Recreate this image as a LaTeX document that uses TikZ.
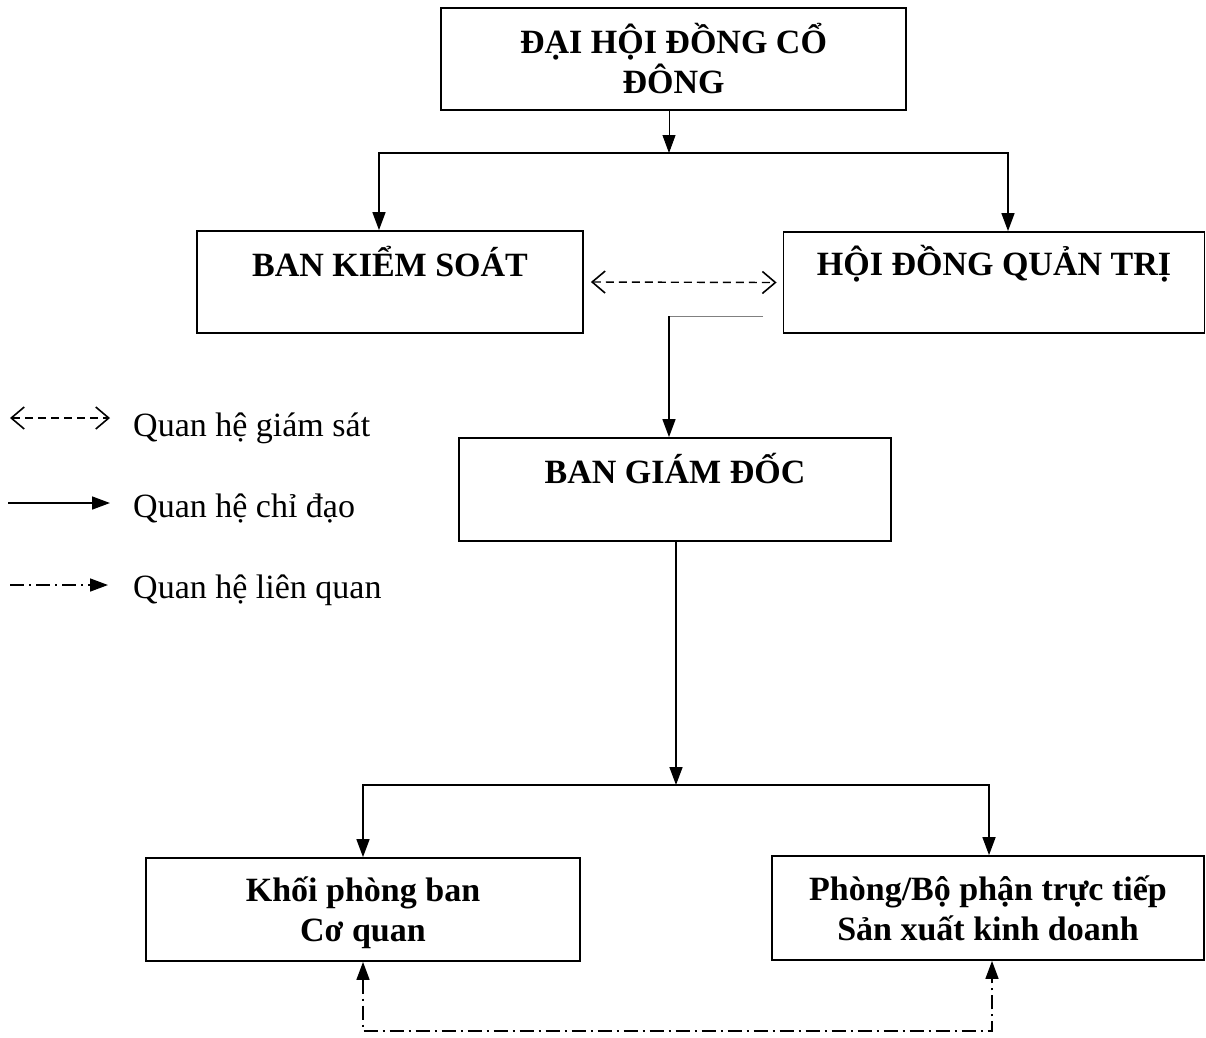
\documentclass[tikz,border=0pt]{standalone}
\usepackage{fontspec}
\setmainfont{Liberation Serif}
\usetikzlibrary{arrows.meta}
\tikzset{
	box/.style={draw,line width=1.8pt,inner sep=0pt,align=center,font=\fontsize{34}{40}\selectfont\bfseries},
	lgd/.style={inner sep=0pt,font=\fontsize{34}{40}\selectfont},
	arr/.style={line width=1.6pt,-{Triangle[width=13pt,length=18pt]}},
	sup/.style={line width=1.4pt,dash pattern=on 8pt off 5pt,{Straight Barb[length=13pt,width=22pt,line width=1.6pt]}-{Straight Barb[length=13pt,width=22pt,line width=1.6pt]}},
	rel/.style={line width=1.6pt,dash pattern=on 14pt off 5pt on 2pt off 5pt,{Triangle[width=13pt,length=18pt]}-{Triangle[width=13pt,length=18pt]}}
}
\begin{document}
\begin{tikzpicture}[x=1pt,y=-1pt]
	\useasboundingbox (0,0) rectangle (1206,1037);

	\node [box,minimum width=465pt,minimum height=102pt] (dh) at (673.5,59) {ĐẠI HỘI ĐỒNG CỔ\\ĐÔNG};
	\node [box,minimum width=386pt,text height=45pt,text depth=57pt,anchor=base] (bks) at (390,276) {BAN KIỂM SOÁT};
	\node [box,minimum width=421pt,text height=43pt,text depth=58pt,anchor=base] (hd) at (994,275) {HỘI ĐỒNG QUẢN TRỊ};
	\node [box,minimum width=432pt,text height=45pt,text depth=58pt,anchor=base] (bgd) at (675,483) {BAN GIÁM ĐỐC};
	\node [box,minimum width=434pt,minimum height=103pt,text depth=0pt] (kh) at (363,909.5) {Khối phòng ban\\Cơ quan};
	\node [box,minimum width=432pt,minimum height=104pt] (sx) at (988,908) {Phòng/Bộ phận trực tiếp\\Sản xuất kinh doanh};

	\coordinate (j1) at (669,153);
	\coordinate (h1) at (763,316);
	\coordinate (h2) at (669,316);
	\coordinate (j2) at (676,785);

	\draw[line width=0.9pt,-{Triangle[width=13pt,length=18pt]}] (dh.south -| j1) -- (j1);
	\draw[arr] (j1) -| ([xshift=-11pt]bks.north);
	\draw[arr] (j1) -| ([xshift=14pt]hd.north);
	\draw[sup] ([xshift=7pt]bks.east) -- ([xshift=-6pt]hd.west);
	\draw[line width=0.8pt,gray] (h1) -- (h2);
	\draw[arr] (h2) -- (h2 |- bgd.north);
	\draw[arr] (bgd.south -| j2) -- (j2);
	\draw[arr] (j2) -| (kh.north);
	\draw[arr] (j2) -| ([xshift=1pt]sx.north);
	\draw[rel] (kh.south) -- ++(0,69) -| ([xshift=4pt]sx.south);

	% chu thich
	\coordinate (l1a) at (10,418);
	\coordinate (l1b) at (110,418);
	\coordinate (l2a) at (8,503);
	\coordinate (l2b) at (110,503);
	\coordinate (l3a) at (10,585);
	\coordinate (l3b) at (108,585);
	\draw[sup] (l1a) -- (l1b);
	\draw[arr] (l2a) -- (l2b);
	\draw[rel,arrows={-Triangle[width=13pt,length=18pt]}] (l3a) -- (l3b);
	\node [lgd,anchor=base west] (t1) at (133,436) {Quan hệ giám sát};
	\node [lgd,anchor=base west] (t2) at (133,517) {Quan hệ chỉ đạo};
	\node [lgd,anchor=base west] (t3) at (133,598) {Quan hệ liên quan};
\end{tikzpicture}
\end{document}
